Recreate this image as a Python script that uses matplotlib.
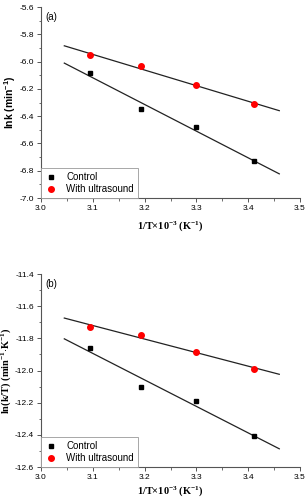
import numpy as np
import matplotlib.pyplot as plt
from matplotlib.ticker import MultipleLocator

plt.rcParams['mathtext.default'] = 'regular'
plt.rcParams['axes.unicode_minus'] = False

x = [3.095, 3.193, 3.299, 3.411]

# panel (a): lnk
lnk_control = [-6.085, -6.35, -6.48, -6.73]
lnk_ultra = [-5.955, -6.035, -6.175, -6.31]

# panel (b): ln(k/T)
lnkT_control = [-11.86, -12.10, -12.19, -12.41]
lnkT_ultra = [-11.73, -11.78, -11.885, -11.99]

fig = plt.figure(figsize=(3.07, 5.0), dpi=100)
ax1 = fig.add_axes([41/307, 1-198/500, 259/307, 191/500])
ax2 = fig.add_axes([41/307, 1-467/500, 259/307, 193/500])

panels = [
    (ax1, lnk_control, lnk_ultra, (-7.0, -5.6), 'lnk (min$^{-1}$)', '(a)', 'Liberation Sans', 5),
    (ax2, lnkT_control, lnkT_ultra, (-12.6, -11.4), 'ln(k/T) (min$^{-1}$$\\cdot$K$^{-1}$)', '(b)', 'Liberation Serif', 2),
]

xfit = np.array([3.045, 3.46])
for ax, yc, yu, ylim, ylab, tag, yfont, xpad in panels:
    # fitted lines
    for ys in (yc, yu):
        p = np.polyfit(x, ys, 1)
        ax.plot(xfit, np.polyval(p, xfit), color='#222222', lw=0.9)
    ax.plot(x, yc, 's', color='black', ms=3.5, label='Control')
    ax.plot(x, yu, 'o', color='red', ms=4, label='With ultrasound')

    ax.set_xlim(3.0, 3.5)
    ax.set_ylim(*ylim)
    ax.xaxis.set_major_locator(MultipleLocator(0.1))
    ax.xaxis.set_minor_locator(MultipleLocator(0.05))
    ax.yaxis.set_major_locator(MultipleLocator(0.2))
    ax.yaxis.set_minor_locator(MultipleLocator(0.1))
    ax.spines['top'].set_visible(False)
    ax.spines['right'].set_visible(False)
    ax.spines['left'].set_color('#555555')
    ax.spines['bottom'].set_color('#555555')
    ax.tick_params(which='major', length=3, width=0.7, color='#555555', labelsize=6, pad=2)
    ax.tick_params(which='minor', length=1.8, width=0.6, color='#555555')
    for lab in ax.get_xticklabels() + ax.get_yticklabels():
        lab.set_fontfamily('Liberation Sans')

    ax.set_xlabel('1/T$\\times$10$^{-3}$ (K$^{-1}$)', fontsize=7.5, fontweight='bold',
                  fontfamily='Liberation Serif', labelpad=xpad)
    ax.set_ylabel(ylab, fontsize=7.5, fontweight='bold', fontfamily=yfont, labelpad=1)
    ax.text(0.015, 0.975, tag, transform=ax.transAxes, fontsize=7,
            fontfamily='Liberation Sans', va='top', ha='left')

    leg = ax.legend(loc='lower left', bbox_to_anchor=(0.0, 0.0),
                    prop={'family': 'Liberation Sans', 'size': 7},
                    fancybox=False, edgecolor='#999999', framealpha=1,
                    borderaxespad=0, handlelength=1.2, handletextpad=1.0,
                    labelspacing=0.2, borderpad=0.4)
    leg.get_frame().set_linewidth(0.6)

fig.savefig('out.png', dpi=100)
